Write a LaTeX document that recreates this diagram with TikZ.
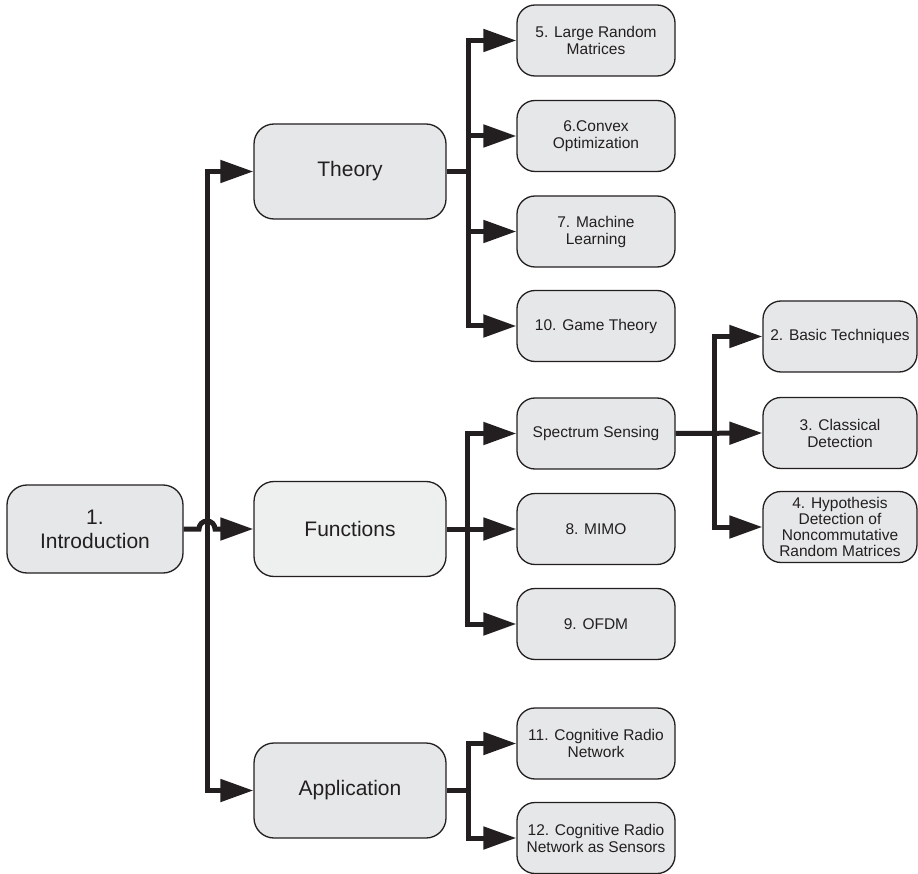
\documentclass[tikz,border=0pt]{standalone}
\usepackage{fontspec}
\setmainfont{Liberation Sans}
\usetikzlibrary{arrows.meta}
\definecolor{ink}{HTML}{231F20}
\definecolor{boxfill}{HTML}{E6E7E8}
\definecolor{boxlight}{HTML}{EEEFEF}
\begin{document}
\begin{tikzpicture}[x=1pt,y=-1pt,
  bigbox/.style={draw=ink,line width=1.3pt,fill=boxfill,rounded corners=20pt,
    minimum width=192pt,minimum height=95pt,inner sep=0pt,align=center,text=ink,
    font=\fontsize{21}{24}\selectfont},
  smallbox/.style={draw=ink,line width=1.3pt,fill=boxfill,rounded corners=18pt,
    minimum width=158pt,minimum height=71pt,inner sep=0pt,align=center,text=ink,
    font=\fontsize{15.5}{17}\selectfont},
  link/.style={draw=ink,line width=5pt,line join=miter},
  arr/.style={link,-{Triangle[length=33pt,width=22pt]}}]
\useasboundingbox (0,0) rectangle (918,874);

% root and the three main branches
\node[bigbox,minimum width=176pt,minimum height=88pt] (intro) at (95,529) {1.\\Introduction};
\node[bigbox] (theory) at (350,171.5) {Theory};
\node[bigbox,fill=boxlight] (functions) at (350,529) {Functions};
\node[bigbox] (application) at (350,790.5) {Application};

% theory chapters
\node[smallbox] (c5) at (596,40.5) {5. Large Random\\Matrices};
\node[smallbox] (c6) at (596,136) {6.Convex\\Optimization};
\node[smallbox] (c7) at (596,231.5) {7. Machine\\Learning};
\node[smallbox] (c10) at (596,326) {10. Game Theory};

% function chapters
\node[smallbox] (ss) at (596,433.5) {Spectrum Sensing};
\node[smallbox] (c8) at (596,529) {8. MIMO};
\node[smallbox] (c9) at (596,624) {9. OFDM};

% application chapters
\node[smallbox] (c11) at (596,743.5) {11. Cognitive Radio\\Network};
\node[smallbox] (c12) at (596,838) {12. Cognitive Radio\\Network as Sensors};

% spectrum sensing chapters
\node[smallbox,minimum width=154pt] (c2) at (840,336.5) {2. Basic Techniques};
\node[smallbox,minimum width=154pt] (c3) at (840,433) {3. Classical\\Detection};
\node[smallbox,minimum width=154pt,font=\fontsize{15.5}{15.7}\selectfont] (c4) at (840,527)
  {4. Hypothesis\\Detection of\\Noncommutative\\Random Matrices};

% junction points of the trunks
\coordinate (rootj) at (207,529);
\coordinate (thj) at (468,171.5);
\coordinate (fnj) at (467,529);
\coordinate (apj) at (468,790.5);
\coordinate (ssj) at (714,433.5);

% root trunk, with a hop where the Functions link crosses it
\draw[arr] (rootj) |- (theory.west);
\draw[arr] (rootj) |- (application.west);
\draw[arr] (intro.east) -- (199,529) arc[start angle=180,end angle=0,radius=8pt] -- (functions.west);

% theory trunk
\draw[link] (theory.east) -- (thj);
\draw[arr] (thj) |- (c5.west);
\draw[arr] (thj) |- (c6.west);
\draw[arr] (thj) |- (c7.west);
\draw[arr] (thj) |- (c10.west);

% functions trunk
\draw[arr] (functions.east) -- (c8.west);
\draw[arr] (fnj) |- (ss.west);
\draw[arr] (fnj) |- (c9.west);

% spectrum sensing trunk
\draw[arr] (ss.east) -- (c3.west);
\draw[arr] (ssj) |- (c2.west);
\draw[arr] (ssj) |- (c4.west);

% application trunk
\draw[link] (application.east) -- (apj);
\draw[arr] (apj) |- (c11.west);
\draw[arr] (apj) |- (c12.west);
\end{tikzpicture}
\end{document}
